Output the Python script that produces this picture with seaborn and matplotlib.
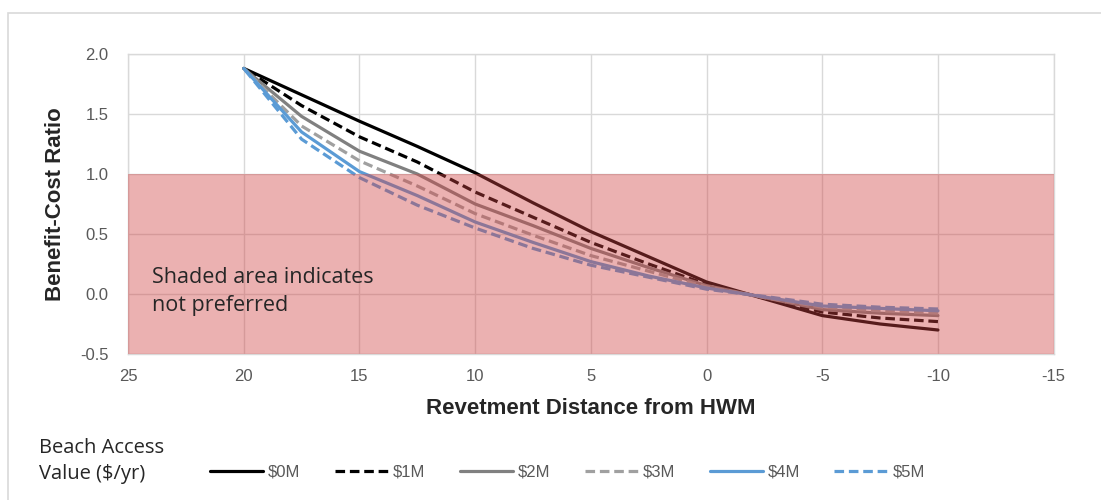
import matplotlib
matplotlib.use("Agg")
import matplotlib.pyplot as plt
import pandas as pd
import seaborn as sns

# revetment distance from HWM (m), read every 2.5 m
distance = [20, 17.5, 15, 12.5, 10, 7.5, 5, 2.5, 0, -2.5, -5, -7.5, -10]

bcr_0m = [1.88, 1.66, 1.44, 1.23, 1.01, 0.76, 0.52, 0.31, 0.10, -0.04, -0.18, -0.25, -0.30]
bcr_1m = [1.88, 1.57, 1.31, 1.10, 0.85, 0.64, 0.43, 0.25, 0.08, -0.035, -0.15, -0.20, -0.23]
bcr_2m = [1.88, 1.48, 1.19, 1.00, 0.75, 0.57, 0.38, 0.22, 0.07, -0.03, -0.13, -0.16, -0.18]
bcr_3m = [1.88, 1.40, 1.11, 0.90, 0.67, 0.49, 0.32, 0.19, 0.06, -0.03, -0.11, -0.14, -0.16]
bcr_4m = [1.88, 1.35, 1.02, 0.82, 0.60, 0.43, 0.27, 0.15, 0.05, -0.025, -0.10, -0.12, -0.14]
bcr_5m = [1.88, 1.29, 0.97, 0.74, 0.55, 0.38, 0.24, 0.14, 0.04, -0.02, -0.085, -0.11, -0.125]

series_labels = ["$0M", "$1M", "$2M", "$3M", "$4M", "$5M"]
series_values = [bcr_0m, bcr_1m, bcr_2m, bcr_3m, bcr_4m, bcr_5m]

x_ticks = [25, 20, 15, 10, 5, 0, -5, -10, -15]
y_ticks = [-0.5, 0.0, 0.5, 1.0, 1.5, 2.0]

frames = []
for lab, vals in zip(series_labels, series_values):
    frames.append(pd.DataFrame({"distance": distance, "bcr": vals, "value": lab}))
data = pd.concat(frames, ignore_index=True)

palette = {"$0M": "black", "$1M": "black", "$2M": "#808080",
           "$3M": "#a0a0a0", "$4M": "#5b9bd5", "$5M": "#5b9bd5"}
dash = (3.0, 1.5)
dashes = {"$0M": "", "$1M": dash, "$2M": "", "$3M": dash, "$4M": "", "$5M": dash}

body = ["Open Sans", "DejaVu Sans"]

sns.set_style("white")
plt.rcParams["font.family"] = ["Liberation Sans", "DejaVu Sans"]

fig = plt.figure(figsize=(11.01, 5.0), dpi=100)
ax = fig.add_axes([0.1163, 0.292, 0.8407, 0.60])

sns.lineplot(data=data, x="distance", y="bcr", hue="value", style="value",
             palette=palette, dashes=dashes, hue_order=series_labels,
             style_order=series_labels, linewidth=2.3, ax=ax, zorder=2)

# "not preferred" band, drawn over the lines like the original
ax.axhspan(-0.5, 1.0, color="#d04545", alpha=0.42, lw=0, zorder=3)

ax.set_xlim(25, -15)
ax.set_ylim(-0.5, 2.0)
ax.set_xticks(x_ticks)
ax.set_yticks(y_ticks)
ax.set_xticklabels([str(t) for t in x_ticks])
ax.set_yticklabels([f"{t:.1f}" for t in y_ticks])
ax.tick_params(axis="both", length=0, labelsize=12, labelcolor="#595959")
ax.tick_params(axis="y", pad=14)
ax.tick_params(axis="x", pad=11)
ax.grid(True, color="#d9d9d9", lw=1.0, zorder=0)
ax.set_axisbelow(True)
for sp in ax.spines.values():
    sp.set_color("#d9d9d9")
    sp.set_linewidth(1.0)

ax.set_xlabel("Revetment Distance from HWM", fontsize=16, fontweight="bold", labelpad=10)
ax.set_ylabel("Benefit-Cost Ratio", fontsize=16, fontweight="bold", labelpad=10)

ax.text(23.95, 0.02, "Shaded area indicates\nnot preferred", fontsize=15.5,
        family=body, color="#262626",
        ha="left", va="center", linespacing=1.45, zorder=4)

handles, labels = ax.get_legend_handles_labels()
ax.get_legend().remove()
fig.legend(handles, labels, loc="center left", bbox_to_anchor=(0.177, 0.056),
           ncol=6, frameon=False, labelcolor="#595959",
           handlelength=3.2, handletextpad=0.3, columnspacing=2.05,
           prop={"size": 12})
fig.text(0.035, 0.078, "Beach Access\nValue ($/yr)", fontsize=14.5,
         family=body, color="#262626",
         ha="left", va="center", linespacing=1.35)

# outer chart border
fig.patches.append(plt.Rectangle((0.007, -0.01), 1.1, 0.984, transform=fig.transFigure,
                                 fill=False, edgecolor="#d9d9d9", lw=1.2))

fig.savefig("out.png", dpi=100)
